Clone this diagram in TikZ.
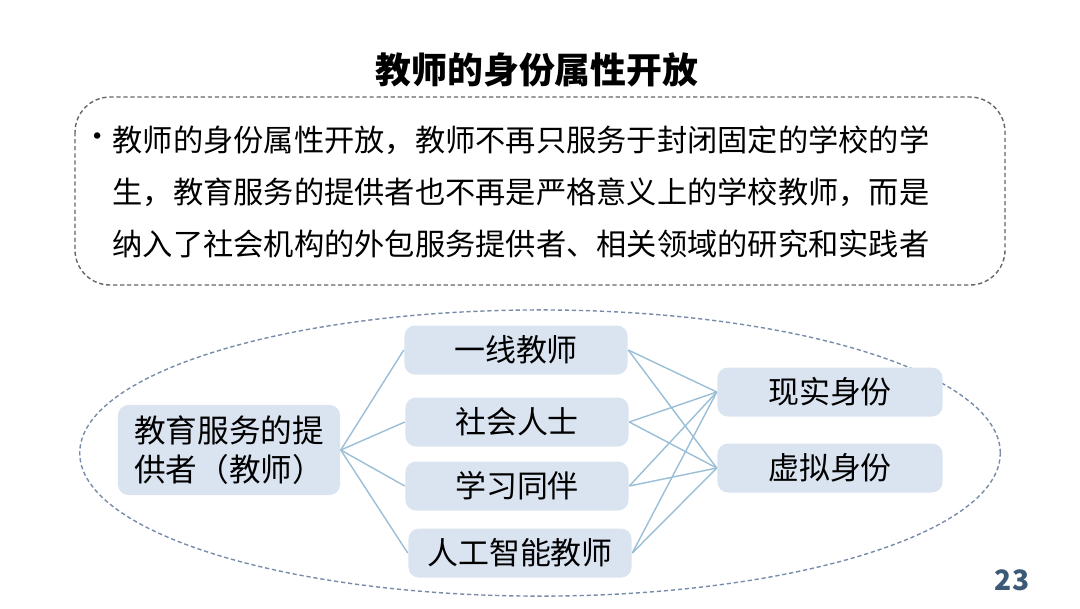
\documentclass[tikz,border=0pt]{standalone}
\usepackage{fontspec}
\setmainfont{Noto Sans CJK SC}
\usetikzlibrary{positioning,shapes.geometric}
\definecolor{boxfill}{RGB}{218,227,240}
\definecolor{linkblue}{RGB}{155,190,215}
\definecolor{ovalline}{RGB}{120,140,170}
\definecolor{pagenum}{RGB}{60,90,120}
\tikzset{
    rolebox/.style={fill=boxfill, rounded corners=3pt, minimum width=2.23cm, minimum height=0.49cm, inner sep=0pt, font=\fontsize{8.8}{10}\selectfont},
    link/.style={draw=linkblue, line width=0.4pt},
    finedash/.style={dash pattern=on 1.2pt off 0.8pt, line width=0.4pt}
}
\begin{document}
\begin{tikzpicture}[x=0.01cm,y=-0.01cm]
    \useasboundingbox (0,0) rectangle (1080,608);
    % title
    \node[font=\fontsize{10.2}{12}\selectfont\bfseries] (title) at (537,70) {教师的身份属性开放};
    % text panel
    \draw[finedash, gray!80!black, rounded corners=10pt] (75,97) rectangle (1005,285);
    \node[font=\fontsize{8.6}{10}\selectfont] (bullet) at (98,140) {•};
    \node[anchor=west, font=\fontsize{8.6}{10}\selectfont, align=left, inner sep=0pt] (body) at (112,192)
        {教师的身份属性开放，教师不再只服务于封闭固定的学校的学\\[0.17cm]生，教育服务的提供者也不再是严格意义上的学校教师，而是\\[0.17cm]纳入了社会机构的外包服务提供者、相关领域的研究和实践者};
    % outer ellipse
    \node[draw=ovalline, finedash, ellipse, minimum width=9.2cm, minimum height=2.86cm] (oval) at (540,453) {};
    % boxes
    \node[rolebox, minimum width=2.22cm, minimum height=0.9cm, align=left, font=\fontsize{9}{11}\selectfont] (provider) at (229,450) {教育服务的提\\供者（教师）};
    \node[rolebox] (frontline) at (516,350) {一线教师};
    \node[rolebox] (society) at (517,422) {社会人士};
    \node[rolebox] (peer) at (517,486) {学习同伴};
    \node[rolebox] (ai) at (520,553) {人工智能教师};
    \node[rolebox, minimum width=2.25cm] (real) at (830,392) {现实身份};
    \node[rolebox, minimum width=2.25cm] (virtual) at (830,468) {虚拟身份};
    % links
    \foreach \m in {frontline,society,peer,ai}{
        \draw[link] (provider.east) -- (\m.west);
        \foreach \r in {real,virtual}
            \draw[link] (\m.east) -- (\r.west);
    }
    % page number
    \node[font=\fontsize{8}{9}\selectfont\bfseries, text=pagenum] (page) at (1012,580) {23};
\end{tikzpicture}
\end{document}
